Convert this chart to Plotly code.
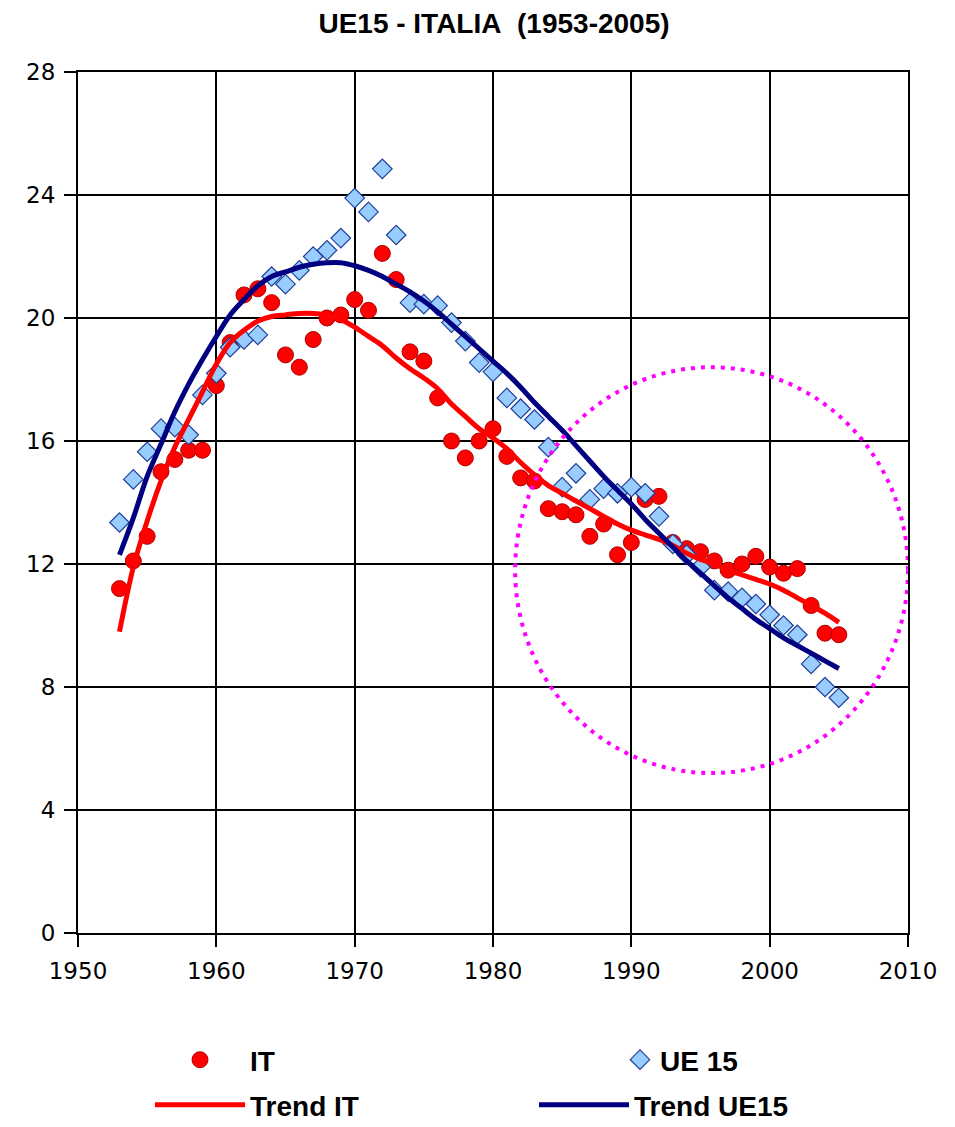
import plotly.graph_objects as go

years = list(range(1953, 2006))

it_values = [11.2, 12.1, 12.9, 15.0, 15.4, 15.7, 15.7, 17.8, 19.2, 20.75,
             20.95, 20.5, 18.8, 18.4, 19.3, 20.0, 20.1, 20.6, 20.25, 22.1,
             21.25, 18.9, 18.6, 17.4, 16.0, 15.45, 16.0, 16.4, 15.5, 14.8,
             14.7, 13.8, 13.7, 13.6, 12.9, 13.3, 12.3, 12.7, 14.1, 14.2,
             12.7, 12.5, 12.4, 12.1, 11.8, 12.0, 12.25, 11.9, 11.7, 11.85,
             10.65, 9.75, 9.7]

ue15_values = [13.35, 14.75, 15.65, 16.4, 16.45, 16.2, 17.5, 18.2, 19.05, 19.3,
               19.45, 21.35, 21.1, 21.55, 22.0, 22.2, 22.6, 23.9, 23.45, 24.85,
               22.7, 20.5, 20.45, 20.4, 19.85, 19.25, 18.55, 18.25, 17.4, 17.05,
               16.7, 15.8, 14.5, 14.95, 14.1, 14.45, 14.3, 14.5, 14.3, 13.55,
               12.65, 12.3, 11.9, 11.15, 11.1, 10.9, 10.7, 10.35, 10.0, 9.7,
               8.75, 8.0, 7.65]

trend_it = [9.8, 11.9, 13.4, 14.7, 15.8, 16.7, 17.6, 18.5, 19.2, 19.6,
            19.9, 20.05, 20.1, 20.15, 20.15, 20.1, 19.95, 19.7, 19.4, 19.1,
            18.7, 18.35, 18.05, 17.7, 17.2, 16.8, 16.4, 16.1, 15.75, 15.3,
            14.9, 14.55, 14.3, 14.05, 13.8, 13.55, 13.3, 13.1, 12.95, 12.8,
            12.6, 12.35, 12.15, 12.0, 11.8, 11.65, 11.5, 11.35, 11.15, 10.9,
            10.65, 10.4, 10.1]

trend_ue15 = [12.3, 13.5, 14.85, 15.9, 16.95, 17.85, 18.65, 19.4, 20.1, 20.6,
              21.05, 21.35, 21.5, 21.65, 21.75, 21.8, 21.8, 21.7, 21.55, 21.35,
              21.1, 20.85, 20.55, 20.2, 19.8, 19.4, 19.0, 18.6, 18.2, 17.75,
              17.25, 16.8, 16.35, 15.85, 15.35, 14.85, 14.4, 13.95, 13.45, 13.0,
              12.55, 12.1, 11.7, 11.3, 10.9, 10.55, 10.2, 9.9, 9.6, 9.35,
              9.1, 8.85, 8.6]

x_ticks = [1950, 1960, 1970, 1980, 1990, 2000, 2010]
y_ticks = [0, 4, 8, 12, 16, 20, 24, 28]

# highlighted region (ellipse) in data units
ellipse_x = [1981.6, 2010.0]
ellipse_y = [5.2, 18.4]

fig = go.Figure()
fig.add_trace(go.Scatter(
    x=years, y=it_values, mode="markers", name="IT", legend="legend",
    marker=dict(symbol="circle", size=16, color="#FF0000",
                line=dict(color="#B00000", width=1))))
fig.add_trace(go.Scatter(
    x=years, y=ue15_values, mode="markers", name="UE 15", legend="legend2",
    marker=dict(symbol="diamond", size=15, color="#99CCFF",
                line=dict(color="#1F3F99", width=1.2))))
fig.add_trace(go.Scatter(
    x=years, y=trend_it, mode="lines", name="Trend IT", legend="legend3",
    line=dict(color="#FF0000", width=5, shape="spline")))
fig.add_trace(go.Scatter(
    x=years, y=trend_ue15, mode="lines", name="Trend UE15", legend="legend4",
    line=dict(color="#000080", width=5, shape="spline")))

fig.add_shape(type="circle", xref="x", yref="y",
              x0=ellipse_x[0], x1=ellipse_x[1], y0=ellipse_y[0], y1=ellipse_y[1],
              line=dict(color="#FF00FF", width=4, dash="4px,6px"))

axis_common = dict(showgrid=True, gridcolor="black", gridwidth=1.8,
                   showline=True, linecolor="black", linewidth=2, mirror=True,
                   ticks="outside", ticklen=12, tickcolor="black", tickwidth=1.8,
                   ticklabelstandoff=4,
                   zeroline=False, automargin=False,
                   tickfont=dict(family="DejaVu Sans", size=23, color="black"))

fig.update_xaxes(range=[1950, 2010], tickvals=x_ticks, **axis_common)
fig.update_yaxes(range=[0, 28], tickvals=y_ticks, **axis_common)

legend_font = dict(family="Liberation Sans", size=28, color="black", weight="bold")


def leg(x, y, itemwidth):
    return dict(orientation="h", xref="container", yref="container",
                x=x, xanchor="left", y=y, yanchor="middle",
                itemwidth=itemwidth, font=legend_font,
                bgcolor="rgba(0,0,0,0)", borderwidth=0)


# the page body adds an 8 px offset, so positions below are shifted by -8 px
fig.update_layout(
    width=955, height=1127,
    margin=dict(l=70, r=55, t=64, b=202, autoexpand=False),
    plot_bgcolor="white", paper_bgcolor="white",
    title=dict(text="UE15 - ITALIA&nbsp;&nbsp;(1953-2005)",
               xref="container", x=486 / 955, xanchor="center",
               yref="container", y=1.0, yanchor="top",
               pad=dict(t=5, b=0, l=0, r=0),
               font=dict(family="Liberation Sans", size=28, color="black", weight="bold")),
    showlegend=True,
    legend=leg(142 / 955, 1 - 1052 / 1127, 90),
    legend2=leg(612 / 955, 1 - 1052 / 1127, 30),
    legend3=leg(142 / 955, 1 - 1097 / 1127, 90),
    legend4=leg(526 / 955, 1 - 1097 / 1127, 90),
)

fig.write_html("out.html")
